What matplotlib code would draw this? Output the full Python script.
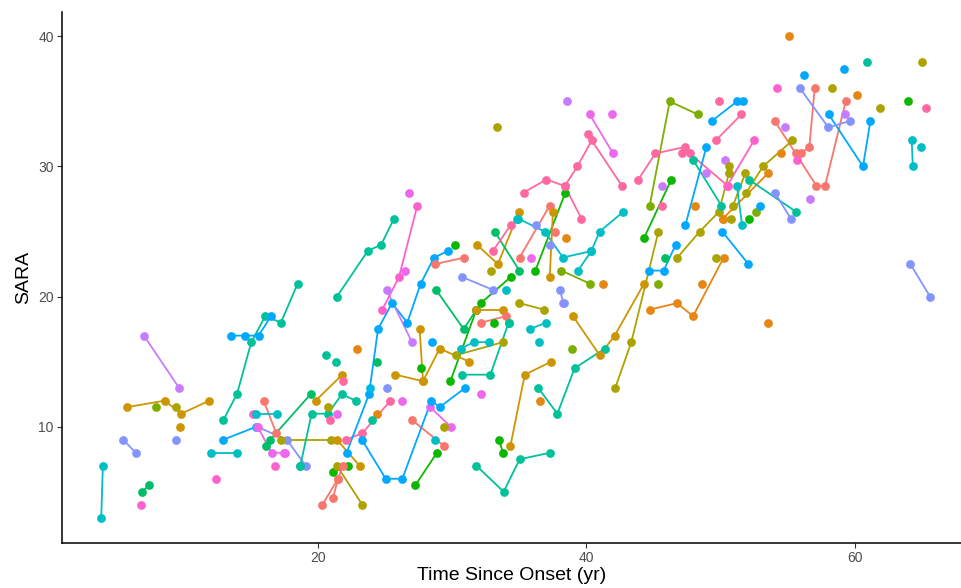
import matplotlib
matplotlib.use("Agg")
import matplotlib.pyplot as plt

# ggplot-like hue palette
palette = {
    "salmon": "#F8766D", "orange": "#E68613", "gold": "#CD9600", "olive": "#ABA300",
    "lgreen": "#7CAE00", "green": "#0CB702", "sgreen": "#00BE67", "tgreen": "#00C19A",
    "teal": "#00BFC4", "sky": "#00B8E7", "blue": "#00A9FF", "lav": "#8494FF",
    "purple": "#C77CFF", "violet": "#ED68ED", "pink": "#FF61CC", "rose": "#FF68A1",
}

# one entry per subject: visit times (yr since onset), SARA scores, colour key
subj_time = [
    [3.85, 3.97], [5.49, 6.41], [7.03, 9.64], [5.76, 8.57, 9.81, 11.9], [9.71], [7.95], [9.44], [9.39],
    [6.9, 7.4], [6.83], [12.94, 13.96, 15.03, 16.07, 17.24, 18.48], [13.54, 14.55, 15.57, 16.5],
    [15.95, 16.89], [15.15], [15.4, 16.94], [12.94, 15.4], [15.45, 17.68, 19.08], [15.5, 16.54, 17.51],
    [12.05, 13.96], [12.39], [16.44, 19.45], [16.1], [17.26, 20.99], [16.77], [18.63],
    [18.68, 19.52, 20.74, 21.78, 22.8], [20.74], [20.86], [21.41], [19.82, 21.81], [21.86],
    [20.62], [21.36], [22.9], [24.42], [21.41, 23.1], [17.44], [21.11, 22.23], [21.41, 23.3],
    [20.32, 21.49, 21.86], [21.11, 21.49], [22.06, 23.3, 25.39], [25.11], [26.23], [24.39], [24.04],
    [27.02, 29.41], [28.69], [27.25, 28.86], [28.37, 29.88], [29.41], [32.17],
    [22.13, 23.8, 24.47, 25.51, 26.65, 27.65, 28.64, 29.66], [23.9],
    [23.27, 25.04, 26.28, 28.44, 29.06, 30.98], [25.76, 27.82, 29.06, 31.27], [27.57, 27.82], [27.67],
    [25.11, 27.0], [24.79, 26.03, 27.4], [26.8], [26.45], [21.41, 23.7, 24.71, 25.66], [28.52],
    [30.75, 32.84, 34.2], [30.62, 31.62, 32.73], [30.3, 33.78], [29.86, 31.8], [28.81, 30.85, 31.8],
    [31.8, 33.78], [32.14, 34.35], [32.17, 34.03], [33.08], [33.48, 33.78], [34.33, 35.4, 37.38],
    [31.8, 33.83, 35.02, 37.3], [36.39, 37.83, 39.12, 41.36], [36.56], [38.95],
    [38.99, 40.98, 42.1, 44.29], [42.15, 43.34, 45.36], [44.73, 46.74, 47.94, 50.22],
    [35.77, 37.01], [36.44], [35.0, 36.83], [38.25], [34.2], [53.55], [33.36], [28.74, 30.9], [30.23],
    [31.82, 33.4, 34.97], [32.86], [30.75, 33.06], [33.16, 35.0], [36.19, 38.43], [33.03, 34.35],
    [34.82], [34.9, 36.89, 38.25, 40.36, 40.98, 42.72], [39.37, 40.36], [34.03], [38.57],
    [40.24, 41.98], [41.88], [35.32, 37.01, 38.38, 39.32, 40.39, 42.65], [40.14], [38.38, 39.62],
    [35.02, 37.26], [35.89], [37.26], [36.26], [37.68], [38.5], [37.26, 37.5], [38.13, 40.24], [41.23],
    [38.0, 38.3], [44.71, 46.2, 48.3], [44.29, 46.32], [43.86, 45.13, 47.32, 47.69, 50.54], [47.1],
    [45.63], [45.65], [45.36], [44.66, 45.75, 46.65], [45.88], [46.77, 48.44, 49.85, 50.62], [50.75],
    [47.37, 48.93], [48.11], [48.63], [50.17], [49.68], [47.94, 50.05], [50.12, 52.06], [50.3], [50.62],
    [48.93], [49.63, 51.54], [49.35, 51.21, 51.66], [54.02, 55.59, 57.13, 57.77, 59.31],
    [55.96, 56.6, 57.0], [54.82], [55.71], [54.52], [51.91, 53.15, 55.34], [50.92, 51.84],
    [50.17, 53.55], [52.09, 55.64], [51.21, 51.59], [52.11], [52.66], [52.96], [54.02, 55.22], [56.65],
    [58.05, 60.6, 61.15], [55.91, 58.02, 59.61], [56.24], [59.24], [64.23, 64.31], [64.95], [61.85],
    [63.98], [65.33], [64.13, 65.6], [50.47, 52.48], [55.09], [60.93], [65.0], [59.21], [54.2], [58.29],
    [60.16], [49.85],
]
subj_sara = [
    [3, 7], [9, 8], [17, 13], [11.5, 12, 11, 12], [10], [11.5], [11.5], [9],
    [5, 5.5], [4], [10.5, 12.5, 16.5, 18.5, 18, 21], [17, 17, 17, 18.5],
    [12, 9.5], [11], [11, 11], [9, 10], [10, 9, 7], [10, 8, 8],
    [8, 8], [6], [9, 12.5], [8.5], [9, 9], [7], [7],
    [7, 11, 11, 12.5, 12], [11.5], [10.5], [11], [12, 14], [13.5],
    [15.5], [15], [16], [15], [9, 7], [8], [6.5, 7], [7, 4],
    [4, 6, 7], [4.5, 6], [9, 9.5, 12], [13], [12], [11], [10.5],
    [10.5, 8.5], [9], [5.5, 8], [11.5, 10], [10], [12.5],
    [8, 12.5, 17.5, 19.5, 18, 21, 23, 23.5], [13],
    [9, 6, 6, 12, 11.5, 13], [14, 13.5, 16, 15], [17.5, 13.5], [14.5],
    [20.5, 16.5], [19, 21.5, 27], [28], [22], [20, 23.5, 24, 26], [16.5],
    [14, 14, 18], [16, 16.5, 16.5], [15.5, 16.5], [13.5, 19], [20.5, 17.5, 19],
    [19, 19], [19.5, 21.5], [18, 18.5], [18], [9, 8], [8.5, 14, 15],
    [7, 5, 7.5, 8], [13, 11, 14.5, 16], [12], [16],
    [18.5, 15.5, 17, 21], [13, 16.5, 25], [19, 19.5, 18.5, 23],
    [17.5, 18], [16.5], [19.5, 19], [19.5], [18], [18], [33], [22.5, 23], [24],
    [24, 22.5, 26.5], [22], [21.5, 20.5], [25, 22], [22, 28], [23.5, 25.5],
    [26], [26, 25, 23, 23.5, 25, 26.5], [22, 23.5], [20.5], [35],
    [34, 31], [34], [28, 29, 28.5, 30, 32, 28.5], [32.5], [28.5, 26],
    [23, 27], [23], [24], [25.5], [25], [24.5], [21.5, 26.5], [22, 21], [21],
    [20.5, 19.5], [27, 35, 34], [24.5, 29], [29, 31, 31.5, 31, 28.5], [31],
    [28.5], [27], [21], [22, 22, 24], [23], [23, 25, 26.5, 29.5], [26],
    [25.5, 31.5], [27], [21], [26], [23], [30.5, 27], [25, 22.5], [30.5], [30],
    [29.5], [32, 34], [33.5, 35, 35], [33.5, 31, 28.5, 28.5, 35],
    [31, 31.5, 36], [33], [30.5], [31], [28, 30, 32], [27, 29.5],
    [26, 29.5], [29, 26.5], [28.5, 25.5], [26], [26.5], [27], [28, 26], [27.5],
    [34, 30, 33.5], [36, 33, 33.5], [37], [34], [32, 30], [31.5], [34.5],
    [35], [34.5], [22.5, 20], [28.5, 32], [40], [38], [38], [37.5], [36], [36],
    [35.5], [35],
]
subj_col = [
    "teal", "lav", "purple", "gold", "gold", "lgreen", "olive", "lav",
    "sgreen", "pink", "tgreen", "blue",
    "salmon", "pink", "teal", "blue", "lav", "violet",
    "teal", "pink", "sgreen", "sgreen", "olive", "pink", "teal",
    "tgreen", "olive", "rose", "violet", "gold", "rose",
    "tgreen", "tgreen", "orange", "sgreen", "gold", "violet", "green", "olive",
    "salmon", "salmon", "rose", "lav", "violet", "orange", "tgreen",
    "salmon", "teal", "green", "violet", "olive", "violet",
    "blue", "sky",
    "blue", "gold", "gold", "green",
    "purple", "pink", "violet", "violet", "tgreen", "blue",
    "tgreen", "teal", "olive", "green", "sgreen",
    "gold", "green", "salmon", "green", "green", "gold",
    "tgreen", "tgreen", "orange", "lgreen",
    "gold", "olive", "orange",
    "teal", "teal", "olive", "purple", "tgreen", "orange", "olive", "salmon", "green",
    "gold", "olive", "lav", "sgreen", "green", "rose",
    "teal", "teal", "teal", "teal", "purple",
    "violet", "violet", "rose", "rose", "rose",
    "salmon", "violet", "lav", "lav", "salmon", "orange", "gold", "lgreen", "orange",
    "lav", "lgreen", "green", "rose", "rose",
    "purple", "rose", "lgreen", "blue", "sgreen", "olive", "olive",
    "blue", "orange", "orange", "orange", "olive", "tgreen", "blue", "purple", "olive",
    "purple", "rose", "blue", "salmon",
    "salmon", "purple", "pink", "orange", "olive", "olive",
    "orange", "tgreen", "teal", "green", "lgreen", "blue", "lav", "purple",
    "blue", "lav", "blue", "purple", "teal", "teal", "olive",
    "green", "rose", "lav", "pink", "orange", "tgreen", "olive", "blue", "pink", "olive",
    "orange", "rose",
]

plt.rcParams["font.family"] = ["Liberation Sans", "DejaVu Sans"]
fig = plt.figure(figsize=(9.62, 5.88), dpi=100)
ax = fig.add_axes([0.0645, 0.0765, 0.935, 0.903])

for t, s, c in zip(subj_time, subj_sara, subj_col):
    if len(t) > 1:
        ax.plot(t, s, color=palette[c], lw=1.3, zorder=2, solid_capstyle="butt")
for t, s, c in zip(subj_time, subj_sara, subj_col):
    ax.plot(t, s, "o", color=palette[c], ms=6.3, mew=0, zorder=3)

ax.set_xlim(0.93, 67.94)
ax.set_ylim(1.06, 41.87)
ax.set_xticks([20, 40, 60])
ax.set_yticks([10, 20, 30, 40])
for side in ["top", "right"]:
    ax.spines[side].set_visible(False)
for side in ["left", "bottom"]:
    ax.spines[side].set_linewidth(1.1)
ax.tick_params(length=3.5, width=0.8, color="#333333", labelcolor="#4D4D4D",
               labelsize=10, pad=2.5)
ax.set_xlabel("Time Since Onset (yr)", fontsize=14, labelpad=1)
ax.set_ylabel("SARA", fontsize=14, labelpad=4)

fig.savefig("out.png", dpi=100)
